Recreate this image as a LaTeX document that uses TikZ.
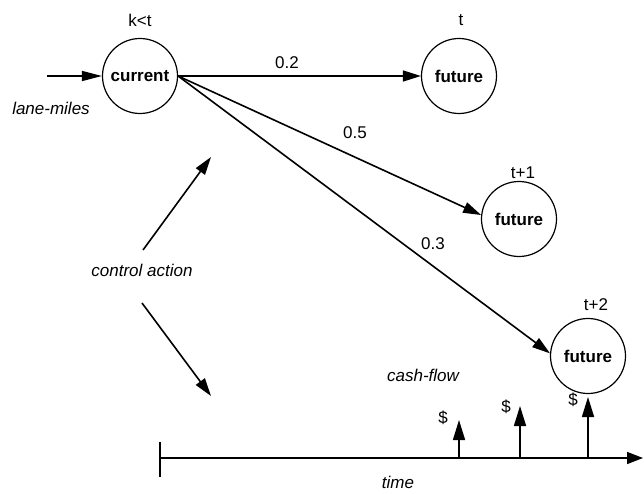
\documentclass[tikz,border=0pt]{standalone}
\usepackage{fontspec}
\setmainfont{Liberation Sans}
\usetikzlibrary{arrows.meta}
\begin{document}
\begin{tikzpicture}[x=1pt,y=-1pt,
  state/.style={circle,draw,line width=1.2pt,minimum size=75pt,inner sep=0pt,font=\fontsize{17}{20}\selectfont\bfseries},
  lbl/.style={font=\fontsize{17}{20}\selectfont,inner sep=0pt},
  ilbl/.style={font=\fontsize{17}{20}\selectfont\itshape,inner sep=0pt},
  arr/.style={line width=1.6pt,-{Triangle[length=18pt,width=11pt]}},
  cash/.style={line width=1.6pt,-{Triangle[length=20pt,width=12pt]}},
  ]
\useasboundingbox (0,0) rectangle (644,494);
% states
\node[state] (cur) at (140,76) {current};
\node[state] (f0) at (459,76) {future};
\node[state] (f1) at (519,219) {future};
\node[state] (f2) at (588,356) {future};
% time labels
\node[lbl] (lk) at (140,20) {k<t};
\node[lbl] (lt) at (461,20) {t};
\node[lbl] (lt1) at (523,173) {t+1};
\node[lbl] (lt2) at (596,305) {t+2};
% input
\coordinate (in) at (47,76);
\draw[line width=1.6pt,-{Triangle[length=20pt,width=10pt]}] (in) -- (cur.west);
\node[ilbl] (lm) at (51,108) {lane-miles};
% transitions
\draw[arr] (cur.east) -- (f0.west);
\draw[arr] (cur.east) -- (f1.174);
\draw[arr] (cur.east) -- (f2.176);
\node[lbl] (p2) at (287,63) {0.2};
\node[lbl] (p5) at (355,133) {0.5};
\node[lbl] (p3) at (433,244) {0.3};
% control action
\node[ilbl] (ca) at (142,270) {control action};
\coordinate (cau0) at (143,250);
\coordinate (cau1) at (211,157);
\coordinate (cad0) at (142,303);
\coordinate (cad1) at (211,396);
\draw[arr] (cau0) -- (cau1);
\draw[arr] (cad0) -- (cad1);
% time axis
\coordinate (t0) at (160,458);
\coordinate (t1) at (643,458);
\coordinate (tk0) at (160,442);
\coordinate (tk1) at (160,477);
\draw[line width=1.4pt] (tk0) -- (tk1);
\draw[line width=1.6pt,-{Triangle[length=16pt,width=12pt]}] (t0) -- (t1);
\node[ilbl] (tm) at (398,482) {time};
\node[ilbl] (cf) at (423,375) {cash-flow};
% cash flows
\coordinate (c1a) at (459,458);
\coordinate (c1b) at (459,420);
\coordinate (c2a) at (520,458);
\coordinate (c2b) at (520,406);
\coordinate (c3a) at (588,458);
\coordinate (c3b) at (588,397);
\draw[cash] (c1a) -- (c1b);
\draw[cash] (c2a) -- (c2b);
\draw[cash] (c3a) -- (c3b);
\node[lbl] (d1) at (443,418) {\$};
\node[lbl] (d2) at (506,407) {\$};
\node[lbl] (d3) at (573,400) {\$};
\end{tikzpicture}
\end{document}
